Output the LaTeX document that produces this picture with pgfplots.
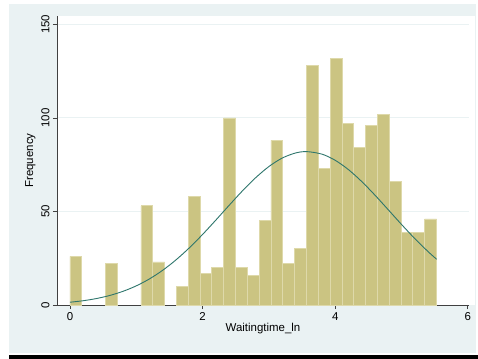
\documentclass[border=0pt]{standalone}
\usepackage{pgfplots}
\pgfplotsset{compat=1.18}
\usepackage{fontspec}
\setmainfont{Liberation Sans}
\definecolor{stbg}{RGB}{234,242,243}
\definecolor{barfill}{RGB}{203,196,130}
\definecolor{baredge}{RGB}{222,217,170}
\definecolor{curve}{RGB}{46,118,108}
\begin{document}
\begin{tikzpicture}
\useasboundingbox (-57bp,-54bp) rectangle (421bp,305bp);
\fill[stbg] (-48bp,-48bp) rectangle (419bp,301bp);
\fill[black] (-48bp,-54bp) rectangle (421bp,-50bp);
\fill[white] (0bp,0bp) rectangle (418bp,289bp);
\begin{axis}[
  at={(0,0)}, anchor=south west,
  scale only axis, width=412bp, height=289bp,
  xmin=-0.196, xmax=6.018, ymin=0, ymax=154.5,
  axis x line*=bottom, axis y line*=left,
  axis line style={black!75, line width=0.8bp},
  tick align=outside, major tick length=4bp,
  tick style={black!75, line width=0.8bp},
  xtick={0,2,4,6}, ytick={0,50,100,150},
  ymajorgrids, grid style={stbg, line width=0.9bp},
  /pgf/number format/assume math mode=true,
  tick label style={font=\fontsize{11.5}{13}\selectfont},
  label style={font=\fontsize{11.5}{13}\selectfont},
  yticklabel style={rotate=90, anchor=south},
  xlabel={Waitingtime\_ln}, ylabel={Frequency},
  xlabel style={yshift=4bp},
  ylabel style={yshift=-1bp},
  clip=false,
]
\addplot[ybar, bar width=0.17832, fill=barfill, draw=baredge, line width=0.8bp] coordinates {
(0.0892,26) (0.6241,22) (1.1591,53) (1.3374,23) (1.6940,10) (1.8724,58)
(2.0507,17) (2.2290,20) (2.4073,100) (2.5856,20) (2.7640,16) (2.9423,45)
(3.1206,88) (3.2989,22) (3.4772,30) (3.6556,128) (3.8339,73) (4.0122,132)
(4.1905,97) (4.3688,84) (4.5472,96) (4.7255,102) (4.9038,66) (5.0821,39)
(5.2604,39) (5.4388,46)
};
\addplot[curve, line width=0.9bp, smooth, mark=none] coordinates {
(0,1.48) (0.2,2.29) (0.4,3.46) (0.6,5.10) (0.8,7.32) (1.0,10.24) (1.2,13.98)
(1.4,18.61) (1.6,24.16) (1.8,30.57) (2.0,37.73) (2.2,45.40) (2.4,53.28)
(2.6,60.98) (2.8,68.04) (3.0,74.02) (3.2,78.54) (3.4,81.25) (3.57,82.0)
(3.8,80.65) (4.0,77.36) (4.2,72.37) (4.4,66.00) (4.6,58.71) (4.8,50.92)
(5.0,43.07) (5.2,35.51) (5.4,28.56) (5.53,24.45)
};
\end{axis}
\end{tikzpicture}
\end{document}
